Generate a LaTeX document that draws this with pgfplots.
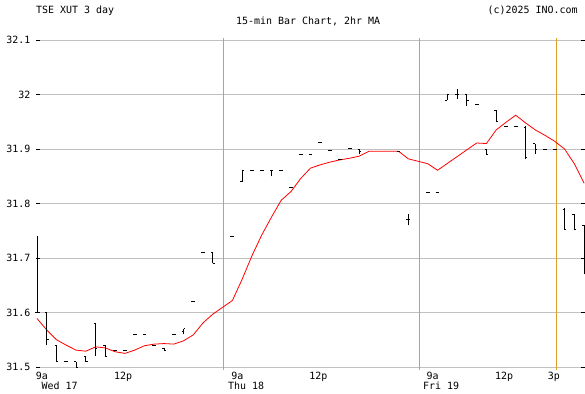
\documentclass[border=0pt]{standalone}
\usepackage{pgfplots}
\pgfplotsset{compat=1.18}
\usepackage{pgfplotstable}
\usepackage{fontspec}
\setmainfont{DejaVu Sans Mono}
\definecolor{divc}{RGB}{221,160,40}
\definecolor{gridc}{RGB}{192,192,192}
\pgfdeclareplotmark{otick}{\pgfpathmoveto{\pgfqpoint{-1.9pt}{0pt}}\pgfpathlineto{\pgfqpoint{0pt}{0pt}}\pgfusepathqstroke}
\pgfdeclareplotmark{ctick}{\pgfpathmoveto{\pgfqpoint{0pt}{0pt}}\pgfpathlineto{\pgfqpoint{1.9pt}{0pt}}\pgfusepathqstroke}
\pgfplotstableread{
i O H L C
0 31.60 31.74 31.60 31.60
1 31.60 31.60 31.54 31.55
2 31.54 31.54 31.51 31.51
3 31.51 31.51 31.51 31.51
4 31.51 31.51 31.50 31.50
5 31.52 31.52 31.51 31.51
6 31.58 31.58 31.52 31.535
7 31.54 31.54 31.52 31.52
8 31.53 31.53 31.53 31.53
9 31.53 31.53 31.53 31.53
10 31.56 31.56 31.56 31.56
11 31.56 31.56 31.56 31.56
12 31.54 31.54 31.54 31.54
13 31.535 31.535 31.53 31.53
14 31.56 31.56 31.56 31.56
15 31.565 31.57 31.56 31.57
16 31.62 31.62 31.62 31.62
17 31.71 31.71 31.71 31.71
18 31.71 31.71 31.69 31.69
20 31.74 31.74 31.74 31.74
21 31.84 31.86 31.84 31.86
22 31.86 31.86 31.86 31.86
23 31.86 31.86 31.86 31.86
24 31.86 31.86 31.85 31.86
25 31.86 31.86 31.86 31.86
26 31.83 31.83 31.83 31.83
27 31.89 31.89 31.89 31.89
28 31.89 31.89 31.89 31.89
29 31.912 31.912 31.912 31.912
30 31.897 31.897 31.897 31.897
31 31.881 31.881 31.881 31.881
32 31.901 31.901 31.901 31.901
33 31.90 31.90 31.89 31.895
37 31.896 31.896 31.896 31.896
38 31.77 31.78 31.76 31.77
40 31.82 31.82 31.82 31.82
41 31.82 31.82 31.82 31.82
42 31.99 32.00 31.99 32.00
43 32.00 32.011 31.992 32.00
44 32.00 32.00 31.979 31.99
45 31.981 31.981 31.981 31.981
46 31.90 31.90 31.89 31.89
47 31.97 31.972 31.95 31.95
48 31.942 31.942 31.942 31.942
49 31.942 31.942 31.942 31.942
50 31.94 31.942 31.881 31.885
51 31.91 31.91 31.891 31.90
52 31.90 31.90 31.90 31.90
53 31.90 31.90 31.90 31.90
54 31.79 31.791 31.751 31.752
55 31.78 31.78 31.751 31.752
56 31.76 31.76 31.67 31.70
}\ohlc
\pgfplotstableread{
i ma
0 31.589
1 31.568
2 31.550
3 31.540
4 31.531
5 31.529
6 31.537
7 31.535
8 31.528
9 31.525
10 31.531
11 31.539
12 31.542
13 31.543
14 31.542
15 31.548
16 31.559
17 31.581
18 31.597
20 31.622
21 31.661
22 31.704
23 31.742
24 31.775
25 31.806
26 31.822
27 31.846
28 31.865
29 31.871
30 31.876
31 31.880
32 31.883
33 31.887
34 31.896
37 31.896
38 31.882
40 31.873
41 31.861
45 31.911
46 31.910
47 31.935
48 31.949
49 31.962
50 31.948
51 31.935
52 31.925
53 31.914
54 31.900
55 31.873
56 31.837
}\ma
\begin{document}
\begin{tikzpicture}
\useasboundingbox (-36bp,-24bp) rectangle (549bp,370bp);
\begin{axis}[
  at={(0,0)}, anchor=south west, scale only axis,
  width=549bp, height=332bp,
  xmin=-0.1, xmax=56.09, ymin=31.4945, ymax=32.10367,
  axis line style={draw=none},
  ytick={31.5,31.6,31.7,31.8,31.9,32,32.1},
  yticklabels={31.5,31.6,31.7,31.8,31.9,32,32.1},
  ymajorgrids, major grid style={gridc, line width=1bp},
  major tick length=4bp, tick align=inside,
  tick style={black, line width=0.8bp},
  xtick={0,8,20,28,40,47,52.4},
  xticklabels={9a,12p,9a,12p,9a,12p,3p},
  every x tick/.append style={draw=none},
  yticklabel style={inner sep=0pt, anchor=east, xshift=-5.5bp},
  xticklabel style={inner sep=0pt, anchor=base west, yshift=-9bp, xshift=-1.3bp},
  tick label style={font=\fontsize{10}{12}\selectfont},
  /pgf/number format/assume math mode=true,
  clip=false,
]
\draw[divc, line width=1bp] (axis cs:19.04,31.4945) -- (axis cs:19.04,32.10367);
\draw[divc, line width=1bp] (axis cs:39.13,31.4945) -- (axis cs:39.13,32.10367);
\draw[divc, line width=1bp] (axis cs:53.15,31.4945) -- (axis cs:53.15,32.10367);
\addplot[red, line width=0.8bp, mark=none] table[x=i, y=ma] {\ma};
\addplot[draw=none, mark=none, forget plot, error bars/.cd, y dir=plus, y explicit, error mark=none,
  error bar style={draw=black, line width=0.8bp, solid}]
  table[x=i, y=L, y error expr=\thisrow{H}-\thisrow{L}] {\ohlc};
\addplot[black, only marks, mark=otick, mark options={line width=0.8bp, solid}] table[x=i, y=O] {\ohlc};
\addplot[black, only marks, mark=ctick, mark options={line width=0.8bp, solid}] table[x=i, y=C] {\ohlc};
\node[anchor=base west, inner sep=0pt, yshift=-19bp] at (axis cs:0.46,31.4945) {Wed 17};
\node[anchor=base west, inner sep=0pt, yshift=-19bp] at (axis cs:19.55,31.4945) {Thu 18};
\node[anchor=base west, inner sep=0pt, yshift=-19bp] at (axis cs:39.5,31.4945) {Fri 19};
\end{axis}
\node[anchor=base west, inner sep=0pt] at (0bp,356.7bp) {TSE XUT 3 day};
\node[anchor=base west, inner sep=0pt] at (200bp,345bp) {15-min Bar Chart, 2hr MA};
\node[anchor=base west, inner sep=0pt] at (451.5bp,356.7bp) {(c)2025 INO.com};
\end{tikzpicture}
\end{document}
